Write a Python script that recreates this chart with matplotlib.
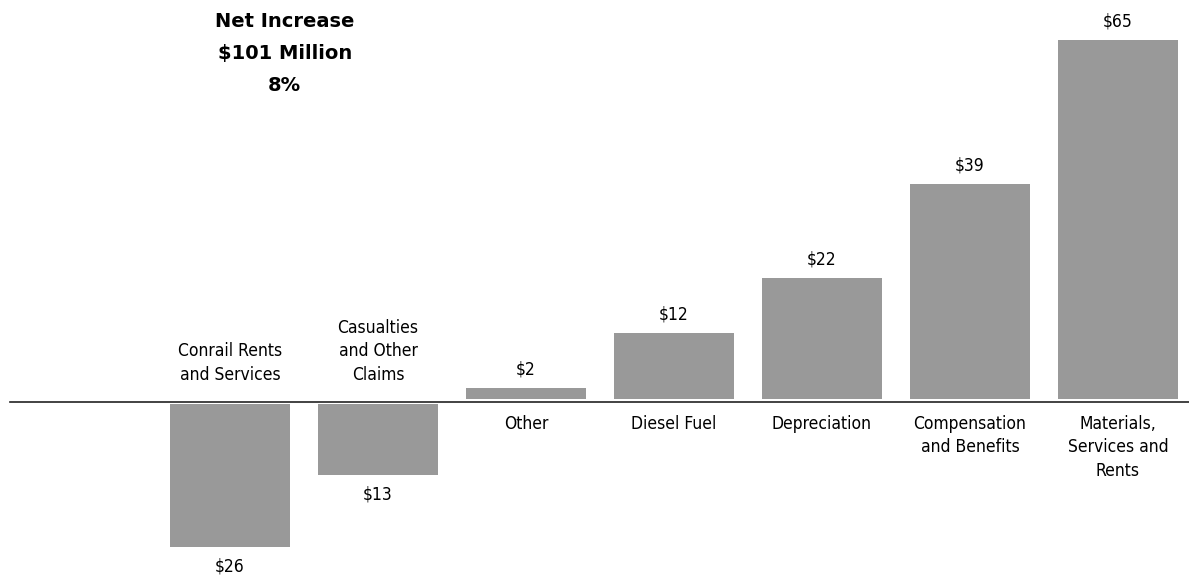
import matplotlib.pyplot as plt
import numpy as np

categories = ['Conrail Rents\nand Services', 'Casualties\nand Other\nClaims', 'Other',
              'Diesel Fuel', 'Depreciation', 'Compensation\nand Benefits',
              'Materials,\nServices and\nRents']
values = [-26, -13, 2, 12, 22, 39, 65]
value_labels = ['$26', '$13', '$2', '$12', '$22', '$39', '$65']

plt.rcParams['font.family'] = ['DejaVu Sans']
plt.rcParams['font.stretch'] = 'condensed'

fig = plt.figure(figsize=(11.89, 5.77), dpi=100)
ax = fig.add_axes([0, 0, 1, 1])

x = np.arange(len(values))
# bars sit a hair off the baseline, like the original
offs = np.where(np.array(values) > 0, 0.5, -0.3)
ax.bar(x, values, width=0.81, bottom=offs, color='#999999')
ax.plot([-1.486, 6.6], [0, 0], color='#222222', lw=1.2)

for xi, v, lab, cat in zip(x, values, value_labels, categories):
    if v > 0:
        ax.text(xi, v + 2.2, lab, ha='center', va='bottom', fontsize=12.5, stretch='condensed')
        ax.text(xi, -2.3, cat, ha='center', va='top', fontsize=12.5, linespacing=1.4,
                stretch='condensed')
    else:
        ax.text(xi, v - 2.2, lab, ha='center', va='top', fontsize=12.5, stretch='condensed')
        ax.text(xi, 3.3, cat, ha='center', va='bottom', fontsize=12.5, linespacing=1.4,
                stretch='condensed')

ax.text(0.37, 70.6, 'Net Increase\n$101 Million\n8%', ha='center', va='top',
        fontsize=14, fontweight='bold', stretch='normal', linespacing=1.85)

ax.set_xlim(-1.554, 6.48)
ax.set_ylim(-31.7, 72.8)
ax.axis('off')

fig.savefig('out.png', dpi=100)
